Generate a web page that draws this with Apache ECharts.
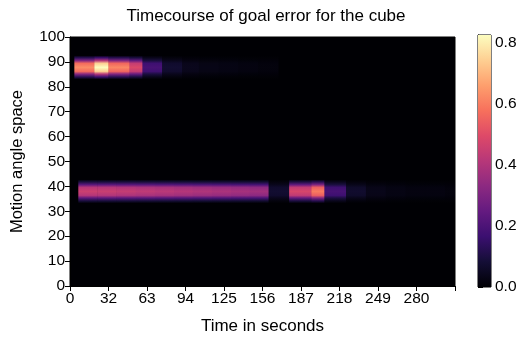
<!DOCTYPE html>
<html>
<head>
<meta charset="utf-8">
<script src="https://cdn.jsdelivr.net/npm/echarts@6/dist/echarts.min.js"></script>
<style>
html,body{margin:0;padding:0;background:#fff;}
#chart{width:532px;height:344px;}
</style>
</head>
<body>
<div id="chart"></div>
<script>
// ---- data ----
const title = 'Timecourse of goal error for the cube';
const xName = 'Time in seconds';
const yName = 'Motion angle space';
const xTickLabels = ['0','32','63','94','125','156','187','218','249','280'];
const yTicks = [0,10,20,30,40,50,60,70,80,90,100];
const cbarTicks = [0.0,0.2,0.4,0.6,0.8];
const timeMax = 311;
const errorMax = 0.826;

// upper band (motion angle ~88)
const upperAngle = 87.8;
const upperStart = [3.5, 19.7, 31, 48, 58.5, 74.4, 90.6, 104, 120, 136, 152];
const upperEnd   = [19.7, 31, 48, 58.5, 74.4, 90.6, 104, 120, 136, 152, 168];
const upperValue = [0.63, 0.826, 0.62, 0.49, 0.19, 0.075, 0.04, 0.03, 0.025, 0.02, 0.015];

// lower band (motion angle ~38)
const lowerAngle = 38.0;
const lowerStart = [6.7, 22, 37.5, 53, 68.5, 84, 99, 114.5, 130, 145, 160.4, 177, 195, 205.5, 223, 239, 255, 271, 287, 303];
const lowerEnd   = [22, 37.5, 53, 68.5, 84, 99, 114.5, 130, 145, 160.4, 177, 195, 205.5, 223, 239, 255, 271, 287, 303, 311];
const lowerValue = [0.455, 0.45, 0.44, 0.43, 0.42, 0.41, 0.40, 0.39, 0.38, 0.37, 0.075, 0.48, 0.60, 0.19, 0.07, 0.035, 0.025, 0.02, 0.02, 0.015];

// ---- magma colormap ----
const magmaStops = ['#000004','#140e36','#3b0f70','#641a80','#8c2981','#b73779','#de4968','#f7705c','#fe9f6d','#fecf92','#fcfdbf'];
function hex2rgb(h){return [parseInt(h.substr(1,2),16),parseInt(h.substr(3,2),16),parseInt(h.substr(5,2),16)];}
const magmaRGB = magmaStops.map(hex2rgb);
function magma(t){
  t = Math.max(0, Math.min(1, t));
  const p = t*(magmaRGB.length-1);
  const i = Math.min(Math.floor(p), magmaRGB.length-2);
  const f = p - i;
  const a = magmaRGB[i], b = magmaRGB[i+1];
  return 'rgb(' + [0,1,2].map(k=>Math.round(a[k]+(b[k]-a[k])*f)).join(',') + ')';
}

function buildBand(starts, ends, values, angle){
  return starts.map((s,i)=>[s, ends[i], angle, values[i]]);
}
const cells = buildBand(upperStart, upperEnd, upperValue, upperAngle)
  .concat(buildBand(lowerStart, lowerEnd, lowerValue, lowerAngle));

// vertical smoothing profile (style: imitates the blurred rendering)
const halfHeight = 4.8;
const profile = [[0,0.0],[0.1,0.2],[0.22,0.5],[0.33,0.9],[0.5,1.0],[0.67,0.9],[0.78,0.5],[0.9,0.2],[1,0.0]];

const FONT = 'Liberation Sans';
const chart = echarts.init(document.getElementById('chart'), null, {renderer:'canvas'});
const option = {
  backgroundColor: '#ffffff',
  animation: false,
  title: {
    text: title, left: 'center', top: 8, padding: 0,
    textStyle: {fontFamily: FONT, fontSize: 17, fontWeight: 'normal', color: '#000'}
  },
  grid: [
    {left: 70, right: 77, top: 37, bottom: 58, show: true, backgroundColor: magma(0), borderColor: '#000', borderWidth: 1},
    {left: 478, width: 13, top: 35, height: 252, show: true, borderColor: '#000', borderWidth: 1}
  ],
  xAxis: [
    {
      gridIndex: 0, type: 'value', min: 0, max: timeMax, interval: 31.1,
      name: xName, nameLocation: 'middle', nameGap: 32,
      nameTextStyle: {fontFamily: FONT, fontSize: 17, color: '#000'},
      axisLine: {show: true, lineStyle: {color: '#000', width: 1}},
      axisTick: {show: true, length: 5, lineStyle: {color: '#000'}},
      axisLabel: {fontFamily: FONT, fontSize: 15.5, color: '#000', margin: 5,
        formatter: function(v){ const i = Math.round(v/31.1); return (Math.abs(v - i*31.1) < 0.01 && xTickLabels[i] !== undefined) ? xTickLabels[i] : ''; }},
      splitLine: {show: false}
    },
    {gridIndex: 1, type: 'value', min: 0, max: 1, show: false}
  ],
  yAxis: [
    {
      gridIndex: 0, type: 'value', min: yTicks[0], max: yTicks[yTicks.length-1], interval: 10,
      name: yName, nameLocation: 'middle', nameGap: 44,
      nameTextStyle: {fontFamily: FONT, fontSize: 16.5, color: '#000'},
      axisLine: {show: true, lineStyle: {color: '#000', width: 1}},
      axisTick: {show: true, length: 5, lineStyle: {color: '#000'}},
      axisLabel: {fontFamily: FONT, fontSize: 15.5, color: '#000', margin: 5},
      splitLine: {show: false}
    },
    {
      gridIndex: 1, type: 'value', min: 0, max: errorMax, interval: 0.2, position: 'right',
      axisLine: {show: true, lineStyle: {color: '#000', width: 1}},
      axisTick: {show: true, length: 5, lineStyle: {color: '#000'}},
      axisLabel: {fontFamily: FONT, fontSize: 15.5, color: '#000', margin: 4,
        formatter: function(v){ return cbarTicks.some(t=>Math.abs(t-v)<1e-6) ? v.toFixed(1) : ''; }},
      splitLine: {show: false}
    }
  ],
  series: [
    {
      type: 'custom', xAxisIndex: 0, yAxisIndex: 0,
      data: cells,
      encode: {x: [0,1], y: 2},
      clip: true,
      renderItem: function(params, api){
        const v = api.value(3);
        const p0 = api.coord([api.value(0), api.value(2) + halfHeight]);
        const p1 = api.coord([api.value(1), api.value(2) - halfHeight]);
        const stops = profile.map(s=>({offset: s[0], color: magma(s[1]*v/errorMax)}));
        return {
          type: 'rect',
          shape: {x: p0[0], y: p0[1], width: p1[0]-p0[0] + 0.5, height: p1[1]-p0[1]},
          style: {fill: new echarts.graphic.LinearGradient(0,0,0,1, stops)}
        };
      }
    },
    {
      type: 'custom', xAxisIndex: 1, yAxisIndex: 1,
      data: [[0, 1, errorMax]],
      renderItem: function(params, api){
        const p0 = api.coord([api.value(0), api.value(2)]);
        const p1 = api.coord([api.value(1), 0]);
        const stops = magmaStops.map((c,i)=>({offset: 1 - i/(magmaStops.length-1), color: c}));
        return {
          type: 'rect',
          shape: {x: p0[0], y: p0[1], width: p1[0]-p0[0], height: p1[1]-p0[1]},
          style: {fill: new echarts.graphic.LinearGradient(0,0,0,1, stops)}
        };
      }
    }
  ]
};
chart.setOption(option);
</script>
</body>
</html>
